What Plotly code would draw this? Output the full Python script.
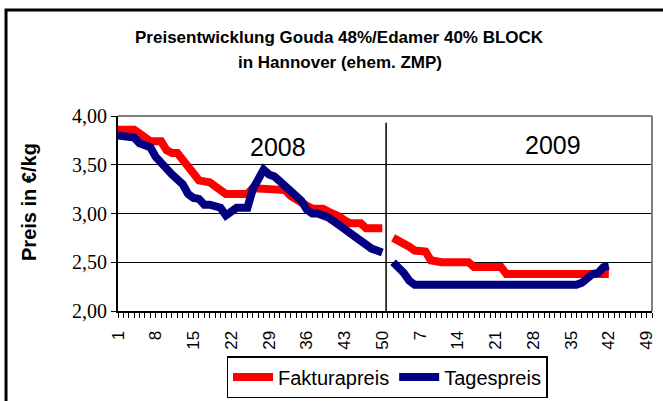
import plotly.graph_objects as go

# ---- data ----
weeks_2008 = list(range(1, 51))
weeks_2009 = list(range(1, 51))

faktura_2008 = [3.86, 3.86, 3.86, 3.86, 3.82, 3.78, 3.74, 3.74, 3.74, 3.65,
                3.62, 3.62, 3.55, 3.45, 3.39, 3.34, 3.33, 3.32, 3.28, 3.24,
                3.20, 3.20, 3.20, 3.20, 3.20, 3.26, 3.26, 3.26, 3.26, 3.26,
                3.26, 3.24, 3.18, 3.14, 3.12, 3.08, 3.05, 3.05, 3.05, 3.02,
                3.00, 2.97, 2.93, 2.90, 2.90, 2.90, 2.85, 2.85, 2.85, 2.85]
tages_2008 = [3.80, 3.80, 3.80, 3.78, 3.72, 3.69, 3.68, 3.58, 3.53, 3.46,
              3.40, 3.36, 3.30, 3.20, 3.16, 3.15, 3.09, 3.09, 3.08, 3.06,
              2.98, 3.03, 3.06, 3.06, 3.06, 3.25, 3.36, 3.45, 3.40, 3.38,
              3.33, 3.28, 3.23, 3.18, 3.13, 3.04, 3.00, 3.00, 2.99, 2.96,
              2.92, 2.87, 2.84, 2.80, 2.76, 2.72, 2.67, 2.64, 2.62, 2.60]
faktura_2009 = [None, 2.75, 2.72, 2.71, 2.66, 2.62, 2.61, 2.61, 2.52, 2.50,
                2.50, 2.50, 2.50, 2.50, 2.50, 2.50, 2.45, 2.45, 2.45, 2.45,
                2.45, 2.45, 2.38, 2.38, 2.38, 2.38, 2.38, 2.38, 2.38, 2.38,
                2.38, 2.38, 2.38, 2.38, 2.38, 2.38, 2.38, 2.38, 2.38, 2.38,
                2.38, 2.38, None, None, None, None, None, None, None, None]
tages_2009 = [None, 2.50, 2.45, 2.39, 2.31, 2.27, 2.27, 2.27, 2.27, 2.27,
              2.27, 2.27, 2.27, 2.27, 2.27, 2.27, 2.25, 2.25, 2.25, 2.25,
              2.25, 2.25, 2.25, 2.25, 2.25, 2.25, 2.25, 2.25, 2.25, 2.25,
              2.25, 2.25, 2.25, 2.25, 2.25, 2.27, 2.29, 2.34, 2.38, 2.39,
              2.45, 2.46, None, None, None, None, None, None, None, None]

y_tick_values = [2.0, 2.5, 3.0, 3.5, 4.0]
y_tick_labels = ["2,00", "2,50", "3,00", "3,50", "4,00"]
year_labels = ["2008", "2009"]
series_names = ["Fakturapreis", "Tagespreis"]

# ---- derived ----
week_labels = [str(w) for w in weeks_2008 + weeks_2009]
x_index = list(range(1, len(week_labels) + 1))
tickvals = x_index[::7]
ticktext = week_labels[::7]
faktura = faktura_2008 + faktura_2009
tages = tages_2008 + tages_2009

fig = go.Figure()
fig.add_trace(go.Scatter(x=x_index, y=faktura, mode="lines", name=series_names[0],
                         line=dict(color="#FF0000", width=8)))
fig.add_trace(go.Scatter(x=x_index, y=tages, mode="lines", name=series_names[1],
                         line=dict(color="#000080", width=8)))

divider_x = len(weeks_2008) + 0.7

fig.update_layout(
    width=663, height=401,
    margin=dict(l=118, r=11, t=116, b=90, autoexpand=False),
    paper_bgcolor="white", plot_bgcolor="white",
    font=dict(family="Liberation Sans, Arial", color="black"),
    showlegend=True,
    legend=dict(orientation="h", xref="container", yref="container",
                x=387 / 663, xanchor="center", y=1 - 356 / 401, yanchor="top",
                bordercolor="black", borderwidth=1.5, font=dict(size=20),
                itemwidth=40, tracegroupgap=0),
    xaxis=dict(range=[1, len(x_index)], tickvals=tickvals, ticktext=ticktext,
               tickangle=-90, tickfont=dict(size=17, family="Liberation Sans, Arial"),
               ticks="outside", ticklen=5, tickwidth=1, tickcolor="black",
               ticklabelstandoff=6,
               minor=dict(dtick=1, tick0=1, ticks="outside", ticklen=5, tickwidth=1, tickcolor="black"),
               showline=True, linecolor="black", linewidth=2, showgrid=False, zeroline=False),
    yaxis=dict(range=[2, 4], tickvals=y_tick_values, ticktext=y_tick_labels,
               tickfont=dict(size=20, family="Liberation Serif, Times New Roman"),
               ticks="outside", ticklen=5, tickwidth=1, tickcolor="black",
               showline=True, linecolor="black", linewidth=2,
               showgrid=True, gridcolor="black", gridwidth=1.2, zeroline=False),
    shapes=[
        dict(type="line", xref="paper", yref="paper", x0=0, x1=1, y0=1, y1=1,
             line=dict(color="#808080", width=2), layer="above"),
        dict(type="line", xref="paper", yref="paper", x0=1, x1=1, y0=0, y1=1,
             line=dict(color="#808080", width=2), layer="above"),
        dict(type="line", xref="x", yref="y", x0=divider_x, x1=divider_x, y0=2.0, y1=3.93,
             line=dict(color="black", width=1.5), layer="above"),
        dict(type="rect", xref="paper", yref="paper", x0=-0.2097, x1=1.2, y0=-0.7, y1=1.5436,
             line=dict(color="black", width=3), fillcolor="rgba(0,0,0,0)", layer="above"),
    ],
    annotations=[
        dict(text="<b>Preisentwicklung Gouda 48%/Edamer 40% BLOCK</b>", xref="paper", yref="paper",
             x=0.4157, y=1.405, showarrow=False, font=dict(size=17), xanchor="center", yanchor="middle"),
        dict(text="<b>in Hannover (ehem. ZMP)</b>", xref="paper", yref="paper",
             x=0.4157, y=1.272, showarrow=False, font=dict(size=17), xanchor="center", yanchor="middle"),
        dict(text="<b>Preis in €/kg</b>", xref="paper", yref="paper", x=-0.1667, y=0.559,
             textangle=-90, showarrow=False, font=dict(size=20), xanchor="center", yanchor="middle"),
        dict(text=year_labels[0], xref="paper", yref="paper", x=(278 - 118) / 534, y=(311 - 147) / 195,
             showarrow=False, font=dict(size=25), xanchor="center", yanchor="middle"),
        dict(text=year_labels[1], xref="paper", yref="paper", x=(553 - 118) / 534, y=(311 - 145) / 195,
             showarrow=False, font=dict(size=25), xanchor="center", yanchor="middle"),
    ],
)

fig.write_html("out.html", config={"displayModeBar": False},
               post_script="document.body.style.margin='0';document.body.style.overflow='hidden';")
